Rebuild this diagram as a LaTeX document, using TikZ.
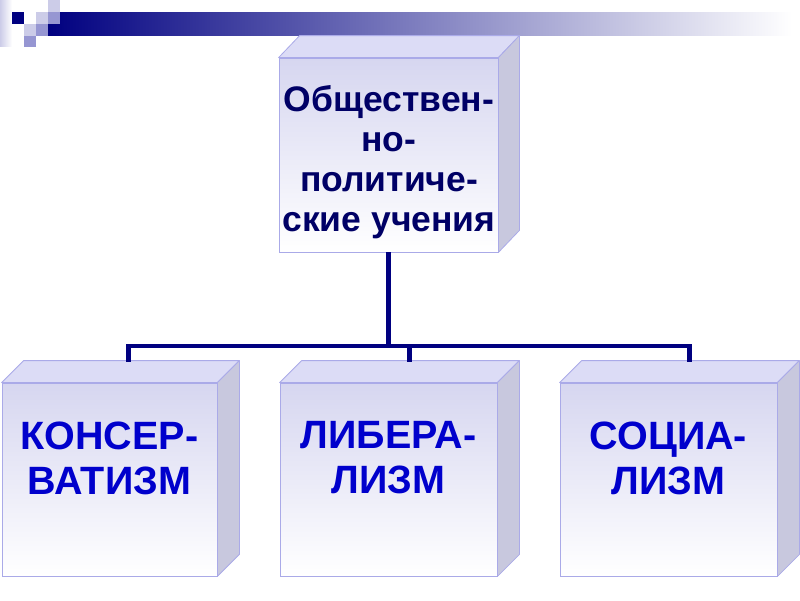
\documentclass[tikz,border=0pt]{standalone}
\usepackage{fontspec}
\setmainfont{Liberation Sans}
\usetikzlibrary{calc}
\definecolor{navy}{RGB}{0,0,128}
\definecolor{toptext}{RGB}{0,0,102}
\definecolor{bottext}{RGB}{0,0,204}
\definecolor{topface}{RGB}{220,220,246}
\definecolor{sideface}{RGB}{200,200,222}
\definecolor{frontc}{RGB}{214,214,240}
\definecolor{edgec}{RGB}{170,170,232}
\definecolor{sqlight}{RGB}{204,204,232}
\definecolor{sqmed}{RGB}{150,150,210}
\tikzset{
  frontbox/.style={draw=edgec, line width=0.8pt, rectangle, inner sep=0pt,
    top color=frontc, bottom color=white},
  topfacest/.style={draw=edgec, line width=0.8pt, fill=topface, line join=round},
  sidefacest/.style={draw=edgec, line width=0.8pt, fill=sideface, line join=round},
  conn/.style={draw=navy, line width=4.6pt},
  toplabel/.style={align=center, text=toptext, font=\bfseries\fontsize{35.5}{40}\selectfont},
  botlabel/.style={align=center, text=bottext, font=\bfseries\fontsize{39.5}{45}\selectfont},
}
\newcommand{\cubefaces}[3]{% name, dx, dy
  \path[topfacest] (#1.north west) -- ++(#2,-#3) -- ($(#1.north east)+(#2,-#3)$) -- (#1.north east) -- cycle;
  \path[sidefacest] (#1.north east) -- ++(#2,-#3) -- ($(#1.south east)+(#2,-#3)$) -- (#1.south east) -- cycle;
}
\begin{document}
\begin{tikzpicture}[x=1pt,y=-1pt]
\useasboundingbox (0,0) rectangle (800,600);
% header decoration
\shade[left color=sqlight, right color=white] (0,0) rectangle (12,46);
\shade[left color=navy, right color=white] (48,12) rectangle (792,35);
\fill[navy] (12,12) rectangle (24,24);
\fill[sqlight] (48,0) rectangle (60,12);
\fill[sqlight] (36,12) rectangle (48,24);
\fill[sqmed] (48,12) rectangle (60,24);
\fill[sqlight] (24,24) rectangle (36,36);
\fill[sqmed] (36,24) rectangle (48,36);
\fill[sqmed] (24,36) rectangle (36,47);

% top cube
\node[frontbox, minimum width=219pt, minimum height=194pt] (top) at (388.5,155) {};
\cubefaces{top}{21}{22}
\node[toplabel] (toptxt) at (389,162) {Обществен-\\но-\\политиче-\\ские учения};

% bottom cubes
\node[frontbox, minimum width=215pt, minimum height=193pt] (b1) at (109.5,479.5) {};
\node[frontbox, minimum width=217pt, minimum height=193pt] (b2) at (388.5,479.5) {};
\node[frontbox, minimum width=217pt, minimum height=193pt] (b3) at (668.5,479.5) {};
\cubefaces{b1}{22}{22}
\cubefaces{b2}{22}{22}
\cubefaces{b3}{22}{22}
\node[botlabel] (t1) at (109.5,458) {КОНСЕР-\\ВАТИЗМ};
\node[botlabel] (t2) at (388.5,458) {ЛИБЕРА-\\ЛИЗМ};
\node[botlabel] (t3) at (668.5,458) {СОЦИА-\\ЛИЗМ};

% connectors
\coordinate (c1) at ($(b1.north)+(19,-21)$);
\coordinate (c2) at ($(b2.north)+(21,-21)$);
\coordinate (c3) at ($(b3.north)+(21,-21)$);
\draw[conn] (top.south) -- (top.south |- 0,346);
\draw[conn] (c1) -- (c1 |- 0,346) -- (c3 |- 0,346) -- (c3);
\draw[conn] (c2) -- (c2 |- 0,346);
\end{tikzpicture}
\end{document}
